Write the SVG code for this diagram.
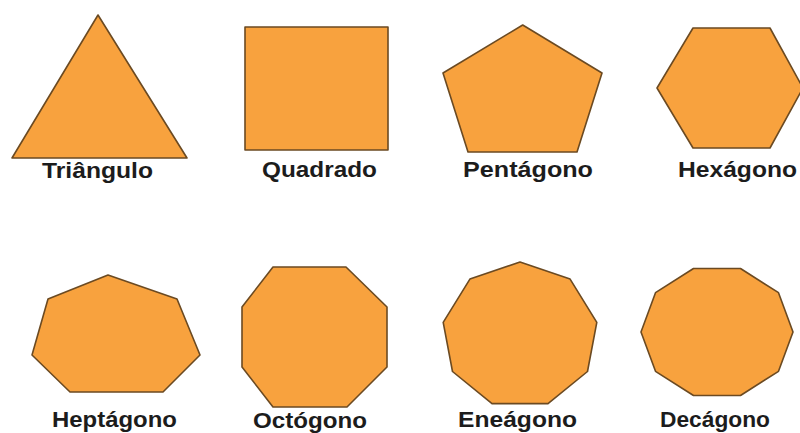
<svg xmlns="http://www.w3.org/2000/svg" width="800" height="433" viewBox="0 0 800 433">
<style>
.shape{fill:#F8A23E;stroke:#6B4A22;stroke-width:1.6;stroke-linejoin:round}
.lbl{font-family:"Liberation Sans",Arial,sans-serif;font-weight:bold;font-size:22px;fill:#1C1C1C;text-anchor:middle}
</style>
<rect width="800" height="433" fill="#FFFFFF"/>
<g id="triangulo">
<polygon class="shape" points="98,15 187,158 12,158"/>
<text class="lbl" x="97.5" y="178" textLength="111" lengthAdjust="spacingAndGlyphs">Triângulo</text>
</g>
<g id="quadrado">
<rect class="shape" x="245" y="27" width="143" height="123"/>
<text class="lbl" x="319.5" y="177" textLength="115" lengthAdjust="spacingAndGlyphs">Quadrado</text>
</g>
<g id="pentagono">
<polygon class="shape" points="522.7,25 602,73 577,152 468,152 443,73"/>
<text class="lbl" x="528" y="177" textLength="130" lengthAdjust="spacingAndGlyphs">Pentágono</text>
</g>
<g id="hexagono">
<polygon class="shape" points="693,28 770,28 803,88 770,148 693,148 657,88"/>
<text class="lbl" x="737.5" y="177" textLength="119" lengthAdjust="spacingAndGlyphs">Hexágono</text>
</g>
<g id="heptagono">
<polygon class="shape" points="108,275 177,299 200,355 163,392 70,392 32,355 48,299"/>
<text class="lbl" x="114.5" y="427" textLength="125" lengthAdjust="spacingAndGlyphs">Heptágono</text>
</g>
<g id="octogono">
<polygon class="shape" points="273,267 346,267 387,307 387,367 347,407 273,407 242,367 242,307"/>
<text class="lbl" x="310" y="428" textLength="114" lengthAdjust="spacingAndGlyphs">Octógono</text>
</g>
<g id="eneagono">
<polygon class="shape" points="520,262 570.1,279.1 596.8,322.3 587.5,371.5 548,403.6 492,403.6 452.5,371.5 443.2,322.3 469.9,279.1"/>
<text class="lbl" x="517.5" y="427" textLength="119" lengthAdjust="spacingAndGlyphs">Eneágono</text>
</g>
<g id="decagono">
<polygon class="shape" points="740.5,268.5 778.5,292.7 793,332 778.5,371.3 740.5,395.5 693.5,395.5 655.5,371.3 641,332 655.5,292.7 693.5,268.5"/>
<text class="lbl" x="715" y="427" textLength="110" lengthAdjust="spacingAndGlyphs">Decágono</text>
</g>
<g id="connectors"/>
</svg>
